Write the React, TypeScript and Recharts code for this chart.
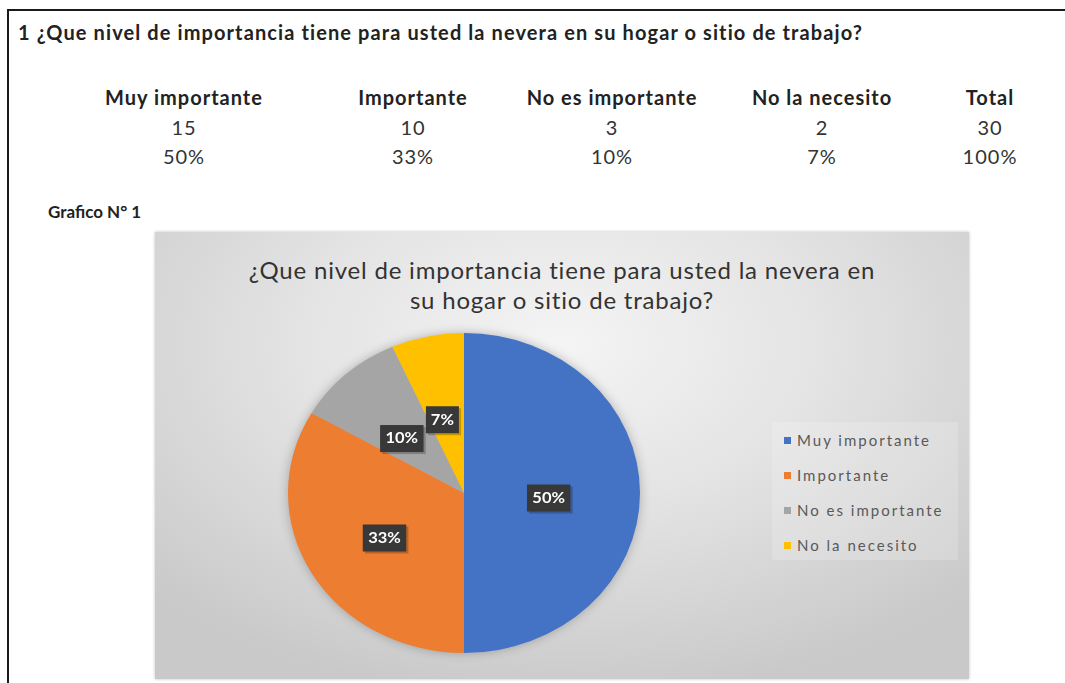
import React from "react";
import { PieChart, Pie, Cell } from "recharts";

const categories = ["Muy importante", "Importante", "No es importante", "No la necesito"];
const counts = [15, 10, 3, 2];
const percentLabels = ["50%", "33%", "10%", "7%"];
const totalCount = 30;
const totalPercent = "100%";
const colors = ["#4472C4", "#ED7D31", "#A5A5A5", "#FFC000"];

const questionText = "1 ¿Que nivel de importancia tiene para usted la nevera en su hogar o sitio de trabajo?";
const chartTitleLines = ["¿Que nivel de importancia tiene para usted la nevera en", "su hogar o sitio de trabajo?"];
const graphCaption = "Grafico N° 1";

const pieData = categories.map((name, i) => ({ name, value: counts[i] }));

const FONT = "Lato, 'Open Sans', sans-serif";
const RAD = Math.PI / 180;

const renderLabel = (props: any) => {
  const { cx, cy, midAngle, outerRadius, percent } = props;
  const r = outerRadius * 0.5;
  const x = cx + r * Math.cos(-midAngle * RAD) - 3;
  const y = cy + r * Math.sin(-midAngle * RAD) + 5;
  const text = `${Math.round(percent * 100)}%`;
  const w = text.length * 9.5 + 11;
  const h = 27;
  return (
    <g>
      <rect x={x - w / 2 + 2} y={y - h / 2 + 2} width={w} height={h} fill="rgba(0,0,0,0.22)" />
      <rect x={x - w / 2} y={y - h / 2} width={w} height={h} fill="#383838" />
      <text x={x} y={y + 1} fill="#ffffff" textAnchor="middle" dominantBaseline="middle"
        style={{ fontFamily: FONT, fontWeight: 700, fontSize: 15 }}>
        {text}
      </text>
    </g>
  );
};

const colCenters = [184, 413, 612, 822, 990];
const rowCenters = [97, 127, 156];

export default function App() {
  const headers = [...categories, "Total"];
  const row1 = [...counts.map(String), String(totalCount)];
  const row2 = [...percentLabels, totalPercent];
  return (
    <div style={{ position: "absolute", left: 0, top: 0, width: 1065, height: 683, background: "#fff", overflow: "hidden", fontFamily: FONT }}>
      <style>{"html,body{margin:0;overflow:hidden;}"}</style>
      <div style={{ position: "absolute", left: 7, top: 9, width: 1058, height: 2, background: "#1a1a1a" }} />
      <div style={{ position: "absolute", left: 7, top: 9, width: 2, height: 674, background: "#1a1a1a" }} />
      <div style={{ position: "absolute", left: 18, top: 20, lineHeight: "24px", fontWeight: 700, fontSize: 20, letterSpacing: 1.1, color: "#222", whiteSpace: "nowrap" }}>
        {questionText}
      </div>
      {[headers, row1, row2].map((row, ri) => (
        row.map((t, ci) => (
          <div key={`${ri}-${ci}`} style={{
            position: "absolute", left: colCenters[ci] - 100, width: 200, textAlign: "center",
            top: rowCenters[ri] - 12, lineHeight: "24px", fontSize: 20, letterSpacing: 1,
            fontWeight: ri === 0 ? 700 : 400,
            color: ri === 0 ? "#222" : "#333", whiteSpace: "nowrap",
          }}>{t}</div>
        ))
      ))}
      <div style={{ position: "absolute", left: 48, top: 201, lineHeight: "22px", fontWeight: 700, fontSize: 17, color: "#222" }}>{graphCaption}</div>

      <div style={{
        position: "absolute", left: 155, top: 232, width: 814, height: 447,
        background: "radial-gradient(ellipse 70% 80% at 50% 25%, #f4f4f4 0%, #e4e4e4 45%, #c9c9c9 100%)",
        boxShadow: "0 0 3px rgba(0,0,0,0.25)",
      }} />
      <div style={{ position: "absolute", left: 155, top: 255, width: 814, textAlign: "center", fontSize: 24, letterSpacing: 0.8, color: "#333", lineHeight: "30px" }}>
        {chartTitleLines.map((l, i) => <div key={i}>{l}</div>)}
      </div>

      <div style={{ position: "absolute", left: 284, top: 313, width: 360, height: 360, transform: "scaleX(1.1)", transformOrigin: "180px 180px", filter: "drop-shadow(0 0 5px rgba(0,0,0,0.25))" }}>
        <PieChart width={360} height={360} margin={{ top: 0, right: 0, bottom: 0, left: 0 }}>
          <Pie data={pieData} dataKey="value" nameKey="name" cx={180} cy={180} outerRadius={160}
            startAngle={90} endAngle={-270} stroke="none" label={renderLabel} labelLine={false}
            isAnimationActive={false}>
            {pieData.map((d, i) => <Cell key={d.name} fill={colors[i]} />)}
          </Pie>
        </PieChart>
      </div>

      <div style={{ position: "absolute", left: 772, top: 422, width: 186, height: 138, background: "rgba(255,255,255,0.18)" }} />
      {categories.map((c, i) => (
        <div key={c} style={{ position: "absolute", left: 784, top: 430 + i * 35, height: 20, display: "flex", alignItems: "center", whiteSpace: "nowrap" }}>
          <span style={{ display: "inline-block", width: 7, height: 7, background: colors[i], marginRight: 6 }} />
          <span style={{ fontSize: 15, color: "#595959", letterSpacing: 2 }}>{c}</span>
        </div>
      ))}
    </div>
  );
}
